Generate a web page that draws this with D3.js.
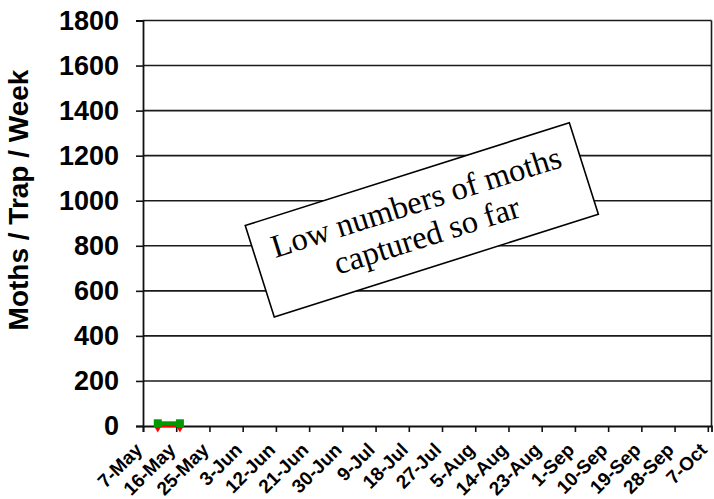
<!DOCTYPE html>
<html>
<head>
<meta charset="utf-8">
<script src="https://cdn.jsdelivr.net/npm/d3@7"></script>
<style>
  html, body { margin: 0; padding: 0; background: #fff; }
  svg { display: block; }
</style>
</head>
<body>
<svg id="chart" width="714" height="499"></svg>
<script>
// Weekly trap catches (season year 2013)
const year = 2013;
const dateTicks = ["7-May","16-May","25-May","3-Jun","12-Jun","21-Jun","30-Jun","9-Jul","18-Jul","27-Jul",
                   "5-Aug","14-Aug","23-Aug","1-Sep","10-Sep","19-Sep","28-Sep","7-Oct"];
const yTicks = [0, 200, 400, 600, 800, 1000, 1200, 1400, 1600, 1800];
const sampleDates = ["11-May", "17-May"];
const trapGreen = [12, 12];
const trapRed = [0, 0];
const yTitle = "Moths / Trap / Week";
const noteLines = ["Low numbers of moths", "captured so far"];

const parse = d3.timeParse("%d-%b-%Y");
const toDate = s => parse(s + "-" + year);

const svg = d3.select("#chart");
const plotL = 143, plotR = 711.5, plotT = 20.5, plotB = 426;

const x = d3.scaleTime()
  .domain([toDate("7-May"), toDate("8-Oct")])
  .range([plotL, plotR]);
const y = d3.scaleLinear().domain([0, 1800]).range([plotB, plotT]);

// gridlines
svg.append("g")
  .selectAll("line")
  .data(yTicks.filter(v => v > 0))
  .join("line")
  .attr("x1", plotL).attr("x2", plotR)
  .attr("y1", d => y(d)).attr("y2", d => y(d))
  .attr("stroke", "#1a1a1a").attr("stroke-width", 1.6);

// right border
svg.append("line")
  .attr("x1", plotR).attr("x2", plotR).attr("y1", plotT).attr("y2", plotB)
  .attr("stroke", "#1a1a1a").attr("stroke-width", 1.6);

// y axis
const yAxis = svg.append("g")
  .attr("transform", `translate(${plotL},0)`)
  .call(d3.axisLeft(y).tickValues(yTicks).tickSize(7).tickPadding(17).tickFormat(d3.format("d")));
yAxis.select(".domain").attr("stroke", "#111").attr("stroke-width", 1.8);
yAxis.selectAll(".tick line").attr("stroke", "#111").attr("stroke-width", 1.6);
yAxis.selectAll(".tick text")
  .attr("font-family", "Liberation Sans, Arial, sans-serif")
  .attr("font-weight", "bold").attr("font-size", 27).attr("fill", "#000");

// x axis
const xAxis = svg.append("g")
  .attr("transform", `translate(0,${plotB})`)
  .call(d3.axisBottom(x).tickValues(dateTicks.map(toDate)).tickSize(6)
    .tickFormat(d3.timeFormat("%-d-%b")));
xAxis.select(".domain").attr("stroke", "#111").attr("stroke-width", 1.8);
xAxis.selectAll(".tick line").attr("stroke", "#111").attr("stroke-width", 1.6);
xAxis.selectAll(".tick text")
  .attr("font-family", "Liberation Sans, Arial, sans-serif")
  .attr("font-weight", "bold").attr("font-size", 19).attr("fill", "#000")
  .attr("text-anchor", "end")
  .attr("dy", null)
  .attr("y", null)
  .attr("transform", "translate(0,25) rotate(-45)");

// y axis title
svg.append("text")
  .attr("transform", "translate(28,200) rotate(-90)")
  .attr("text-anchor", "middle")
  .attr("font-family", "Liberation Sans, Arial, sans-serif")
  .attr("font-weight", "bold").attr("font-size", 28)
  .text(yTitle);

// series
function drawSeries(values, color, width, symbol, size) {
  const pts = sampleDates.map((d, i) => [x(toDate(d)), y(values[i])]);
  svg.append("path")
    .attr("d", d3.line()(pts))
    .attr("fill", "none").attr("stroke", color).attr("stroke-width", width);
  svg.append("g").selectAll("path")
    .data(pts)
    .join("path")
    .attr("transform", d => `translate(${d[0]},${d[1]})`)
    .attr("d", d3.symbol().type(symbol).size(size))
    .attr("fill", color);
}
drawSeries(trapRed, "#ff0000", 2, d3.symbolDiamond, 50);
drawSeries(trapGreen, "#009a00", 4, d3.symbolSquare, 64);

// annotation box
const note = svg.append("g").attr("transform", "translate(421.8,219.9) rotate(-17.6)");
note.append("rect")
  .attr("x", -170).attr("y", -48).attr("width", 340).attr("height", 96)
  .attr("fill", "#fff").attr("stroke", "#000").attr("stroke-width", 1.6);
note.selectAll("text")
  .data(noteLines)
  .join("text")
  .attr("x", 0).attr("y", (d, i) => -8 + i * 35)
  .attr("text-anchor", "middle")
  .attr("font-family", "Liberation Serif, Times New Roman, serif")
  .attr("font-size", 32.5)
  .text(d => d);
</script>
</body>
</html>
